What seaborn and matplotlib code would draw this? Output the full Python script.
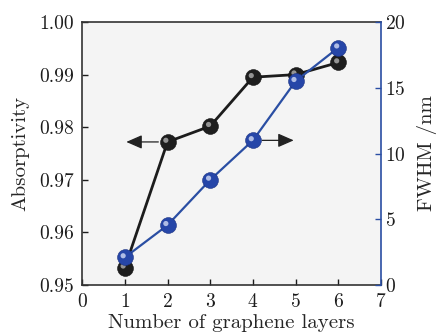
import matplotlib
matplotlib.use("Agg")
import matplotlib.pyplot as plt
import matplotlib.transforms as mtransforms
import seaborn as sns
import pandas as pd

layers = [1, 2, 3, 4, 5, 6]
absorptivity = [0.9533, 0.9772, 0.9802, 0.9895, 0.9900, 0.9923]
fwhm = [2.1, 4.55, 8.0, 11.0, 15.5, 18.05]

sns.set_style("ticks")
plt.rcParams['font.family'] = ['cmr10', 'DejaVu Serif']
plt.rcParams['axes.formatter.use_mathtext'] = True

df = pd.DataFrame({"layers": layers, "abs": absorptivity, "fwhm": fwhm})

fig = plt.figure(figsize=(4.39, 3.33), dpi=100)
ax = fig.add_axes([0.187, 0.144, 0.681, 0.79])
ax.set_facecolor("#f4f4f4")
ax2 = ax.twinx()

black = "#1c1c1c"
blue = "#2a4ea3"


def highlight(a, col, color):
    n = len(a.collections)
    sns.scatterplot(data=df, x="layers", y=col, ax=a, color=color, s=14,
                    edgecolor="none", alpha=0.85, zorder=5)
    coll = a.collections[n]
    coll.set_offset_transform(mtransforms.offset_copy(a.transData, fig=fig, x=-1.2, y=1.2, units="points"))


sns.lineplot(data=df, x="layers", y="abs", ax=ax, color=black, lw=2, zorder=3)
sns.scatterplot(data=df, x="layers", y="abs", ax=ax, color="#1e1e1e", s=130,
                edgecolor="#111111", linewidth=0.4, zorder=4)
highlight(ax, "abs", "#a8a8a8")

sns.lineplot(data=df, x="layers", y="fwhm", ax=ax2, color=blue, lw=1.6, zorder=3)
sns.scatterplot(data=df, x="layers", y="fwhm", ax=ax2, color="#2646a8", s=130,
                edgecolor="#1a3080", linewidth=0.4, zorder=4)
highlight(ax2, "fwhm", "#c8d2f0")

ax.set_xlim(0, 7)
ax.set_ylim(0.95, 1.00)
ax2.set_ylim(0, 20)
ax.set_xticks(range(0, 8))
ax.set_yticks([0.95, 0.96, 0.97, 0.98, 0.99, 1.00])
ax.set_yticklabels(["0.95", "0.96", "0.97", "0.98", "0.99", "1.00"])
ax2.set_yticks([0, 5, 10, 15, 20])

ax.set_xlabel("Number of graphene layers", fontsize=15, labelpad=2)
ax.set_ylabel("Absorptivity", fontsize=15, labelpad=7)
ax2.set_ylabel("FWHM /nm", fontsize=15, labelpad=8)

ax.tick_params(direction="in", labelsize=14, length=4, width=1, colors=black, pad=6)
ax.tick_params(axis="y", right=False)
ax2.tick_params(direction="in", labelsize=14, length=4, width=1, color=blue, labelcolor=black, pad=3)

for s in ["left", "top", "bottom"]:
    ax.spines[s].set_color("#333333")
    ax.spines[s].set_linewidth(1.2)
ax2.spines["right"].set_color(blue)
ax2.spines["right"].set_linewidth(1.2)
for s in ["left", "top", "bottom"]:
    ax2.spines[s].set_visible(False)
ax.spines["right"].set_visible(False)

# arrows
arrow_kw = dict(arrowstyle="-|>,head_length=0.8,head_width=0.35", color="#222222", lw=0.9, mutation_scale=12)
ax.annotate("", xy=(0.97, 0.9772), xytext=(1.85, 0.9772), arrowprops=arrow_kw, zorder=2)
ax2.annotate("", xy=(5.02, 11.0), xytext=(4.15, 11.0), arrowprops=arrow_kw, zorder=2)

fig.savefig("out.png", dpi=100)
